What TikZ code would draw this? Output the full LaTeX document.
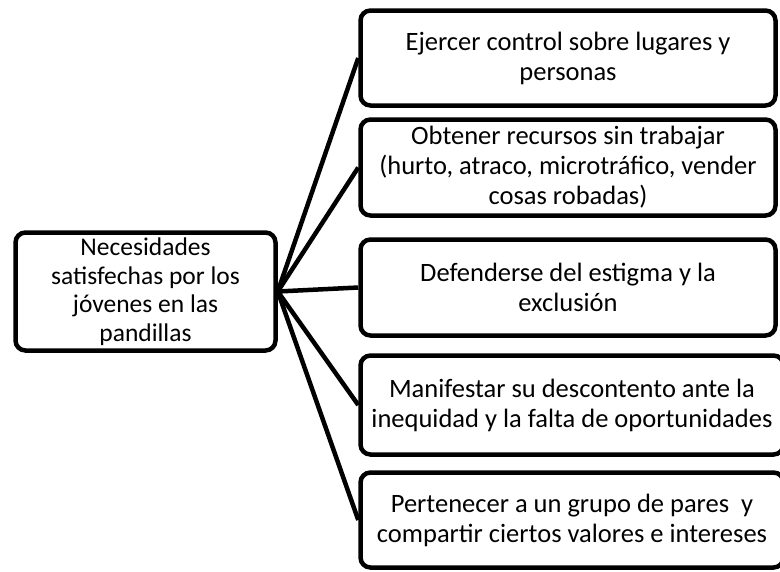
\documentclass[tikz,border=0pt]{standalone}
\usepackage{fontspec}
\setmainfont{Carlito}
\usepackage{tikz}

\begin{document}
\begin{tikzpicture}[x=1pt,y=-1pt,
	box/.style={draw, line width=4.5pt, rounded corners=10pt, align=center, inner sep=0pt,
		font=\fontsize{26.5}{30}\selectfont},
	link/.style={line width=4.5pt}]
	\useasboundingbox (0,0) rectangle (780,571);
	% central box
	\node[box, minimum width=260pt, minimum height=118pt, font=\fontsize{25.5}{28.5}\selectfont] (need) at (145.5,291.5)
		{Necesidades\\ satisfechas por los\\ jóvenes en las\\ pandillas};
	% boxes on the right
	\node[box, minimum width=415pt, minimum height=95pt] (control) at (568,58)
		{Ejercer control sobre lugares y\\ personas};
	\node[box, minimum width=415pt, minimum height=96pt] (recursos) at (568,167.5)
		{Obtener recursos sin trabajar\\ (hurto, atraco, microtráfico, vender\\ cosas robadas)};
	\node[box, minimum width=415pt, minimum height=96pt] (estigma) at (568,287.5)
		{Defenderse del estigma y la\\ exclusión};
	\node[box, minimum width=423pt, minimum height=99pt] (inequidad) at (572,405)
		{Manifestar su descontento ante la\\ inequidad y la falta de oportunidades};
	\node[box, minimum width=423pt, minimum height=95pt] (grupo) at (572,520)
		{Pertenecer a un grupo de pares\ \ y\\ compartir ciertos valores e intereses};
	% connectors
	\draw[link] (need.east) -- (control.west);
	\draw[link] (need.east) -- (recursos.west);
	\draw[link] (need.east) -- (estigma.west);
	\draw[link] (need.east) -- (inequidad.west);
	\draw[link] (need.east) -- (grupo.west);
\end{tikzpicture}
\end{document}
